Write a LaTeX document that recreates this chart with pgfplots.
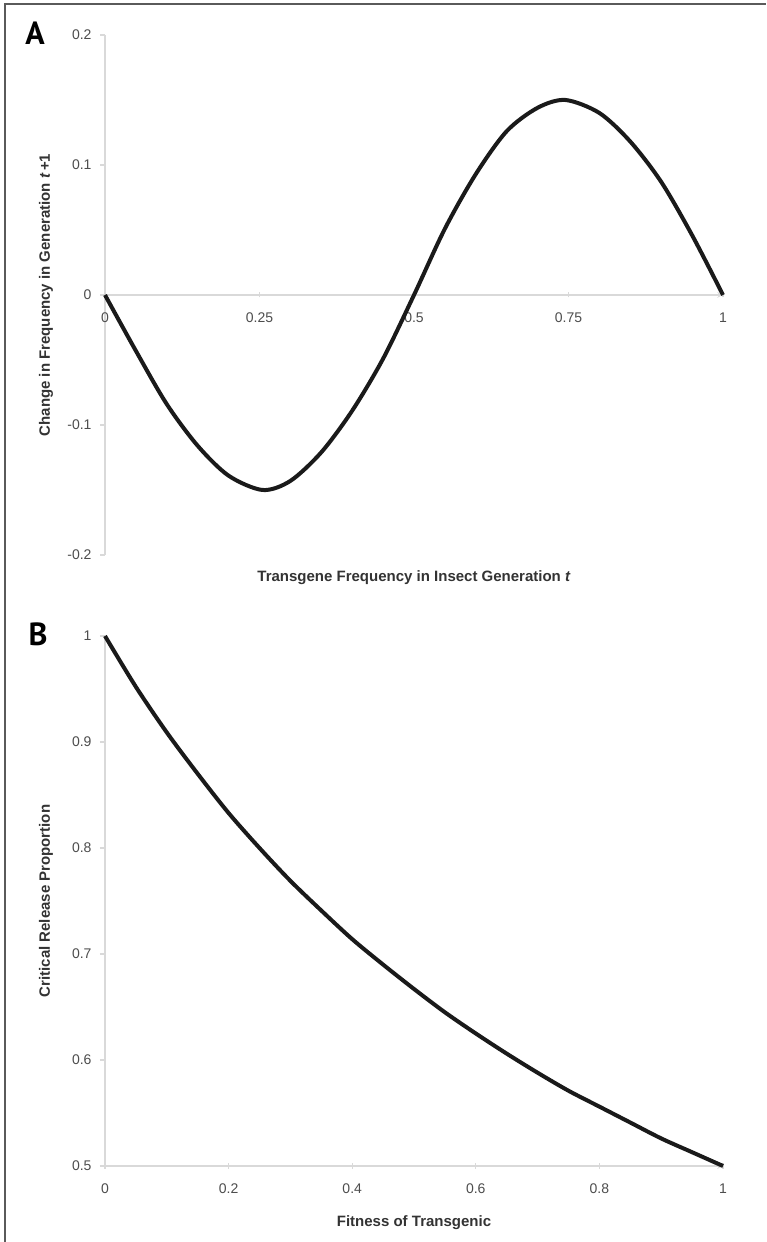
\documentclass[border=0pt]{standalone}
\usepackage{pgfplots}
\pgfplotsset{compat=1.18}
\usepackage{fontspec}
\setmainfont{Liberation Sans}
\newfontfamily\panelfont{PT Sans}
\definecolor{axgray}{HTML}{D9D9D9}
\definecolor{tickgray}{HTML}{4D4D4D}
\definecolor{labgray}{HTML}{333333}
\definecolor{framegray}{HTML}{5A5A5A}
\definecolor{curvecol}{HTML}{1A1A1A}

\pgfplotsset{common/.style={
  scale only axis, width=618pt,
  xmin=0, xmax=1,
  axis y line=left,
  axis line style={axgray, line width=1.5pt, -},
  tick style={axgray, line width=1.2pt},
  major tick length=5pt,
  tick align=outside,
  ticklabel style={font=\fontsize{14}{16}\selectfont, text=tickgray},
  xticklabel shift=12pt,
  yticklabel shift=5pt,
  /pgf/number format/assume math mode=true,
  label style={font=\fontsize{15}{18}\selectfont\bfseries, text=labgray},
  clip=false,
}}

\begin{document}
\begin{tikzpicture}
\useasboundingbox (0,0) rectangle (766pt,1242pt);
\fill[white] (0,0) rectangle (766pt,1242pt);
\draw[framegray, line width=2pt] (5pt,0pt) -- (5pt,1238pt) -- (766pt,1238pt);
\node[font=\panelfont\bfseries\fontsize{32}{34}\selectfont] at (35pt,1209pt) {A};
\node[font=\panelfont\bfseries\fontsize{32}{34}\selectfont] at (38pt,608pt) {B};

\begin{axis}[common, at={(105pt,687pt)}, anchor=south west, height=520pt,
  ymin=-0.2, ymax=0.2,
  axis x line=middle,
  hide obscured x ticks=false, hide obscured y ticks=false,
  xtick={0,0.25,0.5,0.75,1}, xticklabels={0,0.25,0.5,0.75,1},
  ytick={-0.2,-0.1,0,0.1,0.2}, yticklabels={-0.2,-0.1,0,0.1,0.2},
  xlabel={Transgene Frequency in Insect Generation \textit{t}},
  ylabel={Change in Frequency in Generation \textit{t}\,+1},
  xlabel style={at={(axis description cs:0.5,-0.0442)}, anchor=center,
    font=\fontsize{15}{18}\selectfont\bfseries, text=labgray},
  ylabel style={at={(axis description cs:-0.0955,0.5)}, anchor=center},
]
\addplot[curvecol, line width=4pt, smooth, line join=round] coordinates {
(0,0) (0.05,-0.043) (0.1,-0.084) (0.15,-0.116) (0.2,-0.139) (0.255,-0.150)
(0.3,-0.143) (0.35,-0.121) (0.4,-0.089) (0.45,-0.049) (0.5,0)
(0.55,0.051) (0.6,0.093) (0.65,0.126) (0.7,0.144) (0.745,0.150) (0.8,0.140)
(0.85,0.118) (0.9,0.087) (0.95,0.046) (1,0)
};
\end{axis}

\begin{axis}[common, at={(105pt,76pt)}, anchor=south west, height=530pt,
  ymin=0.5, ymax=1,
  axis x line=bottom,
  xtick={0,0.2,0.4,0.6,0.8,1}, xticklabels={0,0.2,0.4,0.6,0.8,1},
  ytick={0.5,0.6,0.7,0.8,0.9,1}, yticklabels={0.5,0.6,0.7,0.8,0.9,1},
  xlabel={Fitness of Transgenic},
  ylabel={Critical Release Proportion},
  xlabel style={at={(axis description cs:0.5,-0.1075)}, anchor=center},
  ylabel style={at={(axis description cs:-0.0955,0.5)}, anchor=center},
]
\addplot[curvecol, line width=4pt, smooth, line join=round] coordinates {
(0,1) (0.05,0.952) (0.1,0.909) (0.15,0.870) (0.2,0.833) (0.25,0.800)
(0.3,0.769) (0.35,0.741) (0.4,0.714) (0.45,0.690) (0.5,0.667) (0.55,0.645)
(0.6,0.625) (0.65,0.606) (0.7,0.588) (0.75,0.571) (0.8,0.556) (0.85,0.541)
(0.9,0.526) (0.95,0.513) (1,0.5)
};
\end{axis}
\end{tikzpicture}
\end{document}
